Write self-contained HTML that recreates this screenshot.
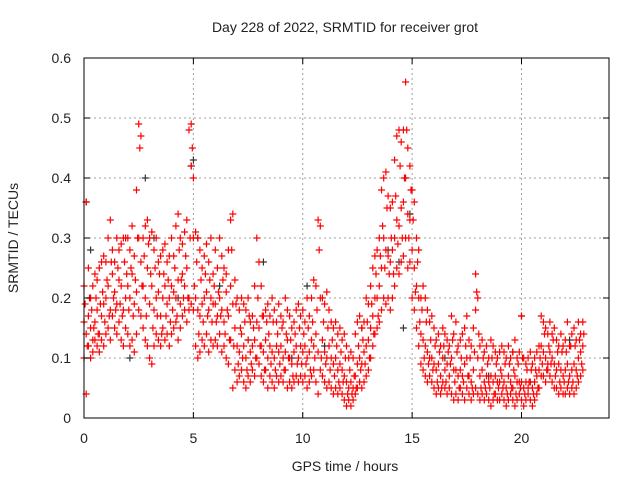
<!DOCTYPE html>
<html><head><meta charset="utf-8"><style>
html,body{margin:0;padding:0;background:#fff;}
svg{display:block;font-family:"Liberation Sans",sans-serif;}
</style></head><body>
<svg id="chart" width="640" height="480" xmlns="http://www.w3.org/2000/svg">
<rect width="640" height="480" fill="#fff"/>
<text x="345" y="32" text-anchor="middle" font-size="14" fill="#222">Day 228 of 2022, SRMTID for receiver grot</text>
<text x="345" y="471" text-anchor="middle" font-size="14" fill="#222">GPS time / hours</text>
<text x="18" y="238" text-anchor="middle" font-size="14" fill="#222" transform="rotate(-90 18 238)">SRMTID / TECUs</text>
<g id="grid"></g>
<g id="marks"></g>
<rect x="84" y="58" width="525" height="360" fill="none" stroke="#000" stroke-width="1"/>
<g id="axes"></g>
</svg>
<script>
const xTicks=[0,5,10,15,20];
const yTicks=[0,0.1,0.2,0.3,0.4,0.5,0.6];
const yTickLabels=["0","0.1","0.2","0.3","0.4","0.5","0.6"];
const tStart=0, tStep=0.1, tOffsetExtra=0.05;
const redHigh=[.22,.36,.25,.2,.22,.24,.23,.25,.26,.27,.26,.3,.33,.28,.26,.3,.28,.29,.3,.3,.3,.28,.32,.27,.38,.49,.47,.3,.32,.33,.3,.31,.28,.3,.26,.27,.28,.29,.26,.27,.3,.27,.32,.34,.3,.29,.31,.33,.48,.49,.4,.31,.3,.28,.25,.27,.29,.26,.3,.24,.28,.25,.3,.27,.25,.24,.28,.33,.34,.23,.2,.18,.2,.19,.18,.2,.16,.17,.22,.3,.26,.22,.17,.18,.19,.17,.2,.18,.16,.19,.17,.16,.2,.18,.17,.15,.16,.18,.19,.17,.18,.16,.2,.17,.2,.23,.22,.33,.32,.2,.19,.21,.18,.16,.15,.16,.14,.15,.13,.14,.12,.1,.11,.1,.14,.16,.17,.15,.16,.2,.19,.22,.25,.27,.28,.3,.38,.4,.41,.37,.35,.36,.43,.47,.48,.46,.48,.56,.45,.42,.38,.36,.3,.28,.2,.22,.2,.18,.16,.17,.15,.13,.14,.12,.15,.14,.13,.12,.17,.14,.16,.12,.13,.14,.15,.17,.13,.12,.15,.24,.2,.12,.13,.11,.12,.1,.13,.12,.11,.1,.11,.12,.11,.1,.12,.1,.11,.13,.1,.11,.17,.1,.09,.1,.11,.09,.1,.11,.12,.17,.16,.15,.14,.16,.14,.15,.13,.12,.14,.12,.13,.16,.12,.14,.15,.13,.16,.14,.16];
const redMid=[.16,.14,.17,.15,.13,.16,.18,.14,.17,.19,.2,.22,.18,.24,.21,.19,.23,.22,.18,.2,.22,.2,.24,.19,.21,.3,.26,.22,.2,.25,.19,.22,.18,.2,.21,.17,.2,.22,.19,.2,.22,.21,.2,.23,.19,.24,.22,.25,.2,.42,.3,.2,.18,.17,.19,.2,.21,.18,.2,.19,.19,.17,.2,.18,.16,.21,.17,.22,.19,.15,.12,.11,.14,.12,.1,.13,.11,.12,.13,.16,.15,.12,.11,.13,.1,.12,.11,.1,.12,.11,.12,.1,.11,.13,.1,.09,.11,.12,.1,.12,.11,.12,.1,.11,.13,.12,.14,.11,.2,.13,.11,.1,.12,.1,.09,.1,.08,.09,.08,.07,.06,.05,.06,.05,.07,.09,.1,.09,.11,.12,.13,.15,.17,.2,.2,.22,.25,.3,.28,.27,.26,.28,.3,.33,.32,.35,.36,.4,.34,.33,.28,.25,.22,.2,.14,.13,.12,.11,.1,.1,.09,.08,.09,.07,.1,.08,.09,.07,.1,.08,.08,.07,.08,.07,.09,.1,.07,.06,.08,.18,.1,.07,.08,.06,.07,.06,.07,.06,.07,.06,.06,.07,.06,.05,.07,.06,.05,.07,.06,.06,.06,.05,.06,.05,.06,.05,.06,.07,.08,.12,.11,.1,.09,.11,.1,.09,.08,.09,.08,.07,.08,.09,.07,.08,.09,.08,.1,.11,.12];
const redLow=[.1,.04,.12,.1,.11,.13,.12,.11,.13,.12,.14,.15,.13,.17,.15,.14,.16,.13,.12,.15,.14,.12,.13,.11,.14,.18,.17,.15,.13,.12,.1,.09,.12,.14,.13,.12,.15,.13,.14,.12,.14,.15,.16,.13,.15,.17,.18,.16,.18,.19,.18,.12,.1,.11,.13,.12,.14,.11,.13,.12,.13,.12,.14,.11,.12,.1,.09,.13,.05,.08,.06,.07,.08,.06,.05,.07,.06,.08,.07,.1,.09,.07,.06,.08,.05,.07,.06,.05,.07,.06,.07,.06,.08,.05,.06,.05,.06,.07,.06,.07,.06,.07,.05,.06,.07,.08,.06,.04,.08,.07,.06,.05,.06,.05,.04,.05,.04,.05,.04,.03,.02,.03,.02,.03,.04,.05,.06,.05,.06,.07,.08,.1,.12,.14,.15,.16,.18,.2,.19,.2,.18,.2,.22,.25,.24,.26,.27,.3,.25,.26,.2,.18,.15,.12,.09,.08,.07,.06,.07,.06,.05,.04,.05,.04,.06,.05,.04,.05,.04,.03,.04,.03,.05,.04,.03,.05,.04,.03,.04,.05,.04,.03,.04,.03,.04,.03,.02,.03,.04,.03,.03,.04,.03,.02,.03,.04,.03,.02,.03,.04,.03,.02,.03,.04,.03,.02,.03,.04,.05,.07,.07,.06,.08,.07,.06,.05,.05,.04,.05,.04,.04,.05,.04,.05,.04,.05,.06,.07,.08];
const redExtra=[.19,.12,.2,.18,.15,.2,.14,.19,.21,.16,.23,.17,.26,.2,.18,.25,.19,.17,.26,.24,.18,.25,.17,.23,.3,.45,.22,.27,.17,.29,.24,.15,.25,.17,.24,.14,.24,.17,.23,.16,.18,.25,.17,.28,.23,.2,.27,.2,.3,.45,.22,.26,.14,.23,.16,.24,.17,.23,.16,.22,.16,.21,.17,.23,.14,.18,.13,.28,.12,.19,.09,.15,.1,.16,.08,.17,.09,.15,.1,.2,.12,.17,.08,.16,.14,.09,.16,.08,.14,.09,.15,.08,.14,.1,.13,.07,.14,.09,.15,.09,.14,.09,.15,.08,.16,.1,.18,.28,.1,.16,.09,.15,.08,.13,.07,.12,.06,.11,.06,.1,.04,.08,.04,.07,.05,.12,.08,.13,.09,.16,.1,.19,.14,.24,.17,.27,.32,.25,.35,.24,.3,.24,.37,.29,.42,.3,.4,.48,.3,.38,.33,.21,.26,.16,.18,.1,.16,.09,.13,.08,.12,.06,.11,.05,.12,.06,.11,.09,.13,.06,.11,.05,.1,.06,.12,.07,.1,.05,.11,.21,.14,.05,.1,.05,.09,.05,.1,.04,.09,.05,.08,.05,.09,.04,.09,.05,.08,.04,.09,.05,.1,.04,.08,.06,.08,.04,.08,.05,.1,.09,.14,.08,.12,.09,.13,.07,.11,.06,.11,.06,.11,.06,.12,.06,.12,.07,.13,.09,.14];
const blackT=[0.1,0.3,2.8,3.2,4.9,5.0,5.2,6.2,8.2,10.2,12.7,13.9,14.4,14.9,14.6,19.6,20.0,22.2,2.1,4.3,7.5,9.5,11,16.5,18.5];
const blackV=[.36,.28,.4,.3,.42,.43,.3,.22,.26,.22,.15,.28,.26,.34,.15,.11,.17,.13,.1,.2,.13,.1,.12,.1,.07];

const X0=84,X1=609,Y0=418,Y1=58,XMAX=24,YMAX=0.6;
const xs=t=>X0+(X1-X0)*t/XMAX;
const ys=v=>Y0-(Y0-Y1)*v/YMAX;
const NS="http://www.w3.org/2000/svg";
const grid=document.getElementById('grid'),axes=document.getElementById('axes'),marks=document.getElementById('marks');
function mk(tag,attrs,parent){const e=document.createElementNS(NS,tag);for(const k in attrs)e.setAttribute(k,attrs[k]);parent.appendChild(e);return e;}
xTicks.forEach(t=>{
  const x=xs(t);
  if(t>0){const g=mk('line',{x1:x,x2:x,y1:Y1,y2:Y0,stroke:'#a0a0a0','stroke-dasharray':'2,3'},grid);
  
  }
  const tk=mk('path',{d:`M${x},${Y0}v-6M${x},${Y1}v6`,stroke:'#000'},axes);
  
  
  const l=mk('text',{x:x,y:443,'text-anchor':'middle','font-size':14,fill:'#222'},axes);l.textContent=t;
  
  
});
yTicks.forEach((v,i)=>{
  const y=ys(v);
  if(v>0&&v<YMAX){const g=mk('line',{x1:X0,x2:X1,y1:y,y2:y,stroke:'#a0a0a0','stroke-dasharray':'2,3'},grid);
  
  }
  const tk=mk('path',{d:`M${X0},${y}h6M${X1},${y}h-6`,stroke:'#000'},axes);
  
  
  const l=mk('text',{x:71,y:y+5,'text-anchor':'end','font-size':14,fill:'#222'},axes);l.textContent=yTickLabels[i];
  
  
});
function cross(t,v,col,name){
  const x=xs(t),y=ys(v);
  const p=mk('path',{d:`M${(x-3.5).toFixed(1)},${y.toFixed(1)}h7M${x.toFixed(1)},${(y-3.5).toFixed(1)}v7`,stroke:col,'stroke-width':1.2},marks);
  
  
}
blackT.forEach((t,i)=>cross(t,blackV[i],'#333','black-point'));
[redHigh,redMid,redLow].forEach(s=>s.forEach((v,i)=>cross(tStart+i*tStep,v,'#ff0000','red-point')));
redExtra.forEach((v,i)=>cross(tStart+tOffsetExtra+i*tStep,v,'#ff0000','red-point'));
</script>
</body></html>
